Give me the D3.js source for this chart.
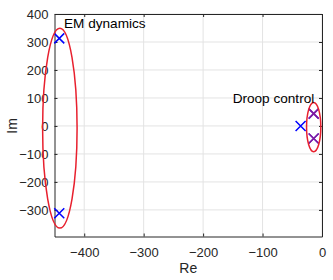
<!DOCTYPE html>
<html lang="en">
<head>
	<meta charset="UTF-8">
	<title>Pole map</title>
	<script src="https://cdnjs.cloudflare.com/ajax/libs/d3/7.8.5/d3.min.js"></script>
	<style>
		*{padding:0;margin:0;}
		body{background:#fff;}
		text{font-family:"Liberation Sans",Arial,sans-serif;}
		.grid line{stroke:#e3e3e3;stroke-width:1;}
		.tick text{fill:#262626;font-size:13px;}
		.domain,.tick line{stroke:#262626;}
	</style>
</head>
<body>
	<div id="container"></div>
<script>
	// poles (Re, Im)
	var poleRe=[-442,-442,-36,-14,-14]
	var poleIm=[313,-312,0,44,-45]
	// droop poles drawn twice (overlapping markers)
	var overRe=[-14,-14]
	var overIm=[44,-45]
	// highlighted groups: center re, center im, radius re, radius im
	var groupNames=['EM dynamics','Droop control']
	var groupCx=[-441,-14]
	var groupCy=[-8,-4]
	var groupRx=[29,12]
	var groupRy=[357,88]
	var xTicks=[-400,-300,-200,-100,0]
	var yTicks=[-300,-200,-100,0,100,200,300,400]

	var width=333,height=280,
	margin={left:54.5,top:14,right:11,bottom:43.5},
	g_width=width-margin.left-margin.right,
	g_height=height-margin.top-margin.bottom

	var svg=d3.select('#container').append('svg')
	.attr('width',width).attr('height',height)

	var g=svg.append('g')
	.attr('transform','translate('+margin.left+','+margin.top+')')

	var scale_x=d3.scaleLinear().domain([-450,0]).range([0,g_width])
	var scale_y=d3.scaleLinear().domain([-395,400]).range([g_height,0])

	// grid
	g.append('g').attr('class','grid')
	.selectAll('line.v').data(xTicks).enter().append('line')
	.attr('x1',d=>scale_x(d)).attr('x2',d=>scale_x(d))
	.attr('y1',0).attr('y2',g_height)
	g.append('g').attr('class','grid')
	.selectAll('line.h').data(yTicks).enter().append('line')
	.attr('x1',0).attr('x2',g_width)
	.attr('y1',d=>scale_y(d)).attr('y2',d=>scale_y(d))

	// axes (ticks inside, box on)
	var fmt=d3.format('d')
	g.append('g').attr('transform','translate(0,'+g_height+')')
	.call(d3.axisBottom(scale_x).tickValues(xTicks).tickSizeInner(-3).tickSizeOuter(0).tickPadding(11).tickFormat(fmt))
	g.append('g')
	.call(d3.axisLeft(scale_y).tickValues(yTicks).tickSizeInner(-3).tickSizeOuter(0).tickPadding(6).tickFormat(fmt))
	g.append('g')
	.call(d3.axisTop(scale_x).tickValues(xTicks).tickSizeInner(-3).tickSizeOuter(0).tickFormat(''))
	g.append('g').attr('transform','translate('+g_width+',0)')
	.call(d3.axisRight(scale_y).tickValues(yTicks).tickSizeInner(-3).tickSizeOuter(0).tickFormat(''))
	g.selectAll('.tick text').attr('font-family','Liberation Sans, Arial, sans-serif')

	// pole markers
	function crosses(sel,re,im,color,op){
		var s=5
		sel.selectAll(null).data(re).enter().append('path')
		.attr('d',function(d,i){
			var x=scale_x(d),y=scale_y(im[i])
			return 'M'+(x-s)+','+(y-s)+'L'+(x+s)+','+(y+s)+'M'+(x-s)+','+(y+s)+'L'+(x+s)+','+(y-s)
		})
		.attr('fill','none').attr('stroke',color).attr('stroke-width',1.5).attr('opacity',op)
	}
	crosses(g.append('g'),poleRe,poleIm,'#0000ff',1)
	crosses(g.append('g'),overRe,overIm,'#b0207a',0.75)

	// group ellipses
	g.append('g').selectAll('ellipse').data(groupCx).enter().append('ellipse')
	.attr('cx',d=>scale_x(d))
	.attr('cy',(d,i)=>scale_y(groupCy[i]))
	.attr('rx',(d,i)=>scale_x(groupRx[i])-scale_x(0))
	.attr('ry',(d,i)=>scale_y(0)-scale_y(groupRy[i]))
	.attr('fill','none').attr('stroke','#e8202e').attr('stroke-width',1.5)

	// annotations
	g.append('text').text(groupNames[0])
	.attr('x',scale_x(-434)).attr('y',scale_y(349))
	.attr('font-size','13.6px').attr('fill','#000')
	g.append('text').text(groupNames[1])
	.attr('x',scale_x(-13)).attr('y',scale_y(82))
	.attr('text-anchor','end')
	.attr('font-size','13.6px').attr('fill','#000')

	// axis labels
	svg.append('text').text('Re')
	.attr('x',margin.left+scale_x(-225)).attr('y',273)
	.attr('text-anchor','middle').attr('font-size','14px').attr('fill','#262626')
	svg.append('text').text('Im')
	.attr('transform','translate(17,'+(margin.top+scale_y(0))+') rotate(-90)')
	.attr('text-anchor','middle').attr('font-size','14px').attr('fill','#262626')
</script>
</body>
</html>
